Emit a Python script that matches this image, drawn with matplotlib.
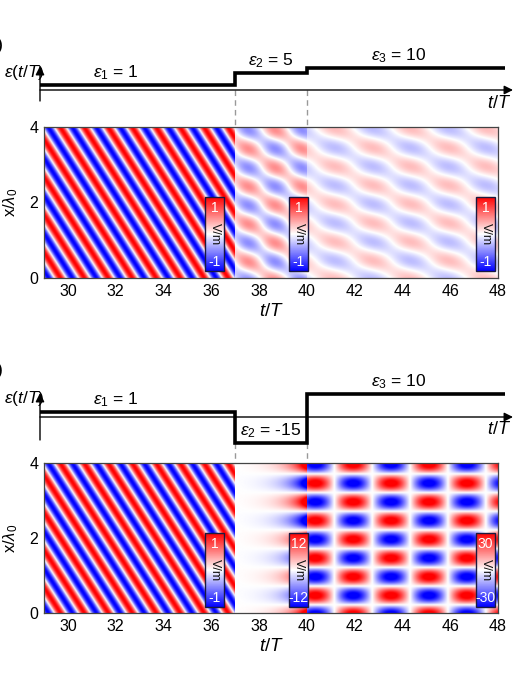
import numpy as np
import matplotlib
matplotlib.use('Agg')
import matplotlib.pyplot as plt
from matplotlib.cm import ScalarMappable
from matplotlib.colors import Normalize

plt.rcParams.update({
    'font.family': ['Liberation Sans', 'DejaVu Sans'],
    'mathtext.fontset': 'custom',
    'mathtext.rm': 'Liberation Sans',
    'mathtext.it': 'Liberation Sans:italic',
    'mathtext.bf': 'Liberation Sans:bold',
})

# ---- data ----
t_range = [29, 48]          # t/T shown in the field maps
x_range = [0, 4]            # x/lambda0
t_switch = [37, 40]         # times where permittivity jumps
eps_top = [1, 5, 10]
eps_bot = [1, -15, 10]
cbar_top = [1, 1, 1]        # colour limits (V/m) of each time slab
cbar_bot = [1, 12, 30]
phase0 = 0.65               # initial phase of incident wave (units of pi)
t_ticks = [30, 32, 34, 36, 38, 40, 42, 44, 46, 48]
x_ticks = [0, 2, 4]

W, H = 521, 680
fig = plt.figure(figsize=(W / 100, H / 100), dpi=100)

# pixel layout of the heat maps
HX0, HX1 = 44, 498
px_per_t = (HX1 - HX0) / (t_range[1] - t_range[0])


def px2t(px):
    return t_range[0] + (px - HX0) / px_per_t


def px_axes(x0, y0, x1, y1):
    return fig.add_axes([x0 / W, 1 - y1 / H, (x1 - x0) / W, (y1 - y0) / H])


def field(eps_list, t, x):
    # 1D wave, k fixed, D and H continuous across each temporal boundary
    k = 2 * np.pi
    edges = [t_range[0]] + t_switch + [t_range[1]]
    s = np.sqrt(complex(eps_list[0]))
    w = k / s
    d0 = np.exp(1j * (w * edges[0] + np.pi * phase0))
    h0 = d0 / s
    e_t = np.zeros(t.shape, complex)
    for i, eps in enumerate(eps_list):
        s = np.sqrt(complex(eps))
        w = k / s
        dp0 = 1j * k * h0
        m = (t >= edges[i]) & (t <= edges[i + 1])
        tau = t[m] - edges[i]
        e_t[m] = (d0 * np.cos(w * tau) + dp0 / w * np.sin(w * tau)) / eps
        T = edges[i + 1] - edges[i]
        d_end = d0 * np.cos(w * T) + dp0 / w * np.sin(w * T)
        dp_end = -d0 * w * np.sin(w * T) + dp0 * np.cos(w * T)
        d0, h0 = d_end, dp_end / (1j * k)
    return np.real(e_t[None, :] * np.exp(1j * k * x[:, None])), edges


LS = 0.25 / 0.9


def g(e):
    # schematic (symlog-like) height of the permittivity steps
    e = np.asarray(e, float)
    a = np.abs(e)
    return np.sign(e) * np.where(a <= 1, a * LS, LS + np.log10(np.maximum(a, 1)))


def draw_panel(eps_list, clims, ax_rows, base_row, scale, below_px, heat_rows, cb_rows, tag, tag_row):
    # ---- permittivity schematic ----
    ex0, ex1 = 30, 515
    ax_e = px_axes(ex0, ax_rows[0], ex1, ax_rows[1])
    ax_e.set_xlim(px2t(ex0), px2t(ex1))
    ax_e.set_ylim(-(ax_rows[1] - base_row) / scale, (base_row - ax_rows[0]) / scale)
    ax_e.axis('off')
    t0 = px2t(40)
    t_end = px2t(505)
    ax_e.annotate('', xy=(px2t(513), 0), xytext=(t0, 0),
                  arrowprops=dict(arrowstyle='-|>', color='k', lw=1.0, mutation_scale=13,
                                  shrinkA=0, shrinkB=0))
    ax_e.annotate('', xy=(t0, 24 / scale), xytext=(t0, -below_px / scale),
                  arrowprops=dict(arrowstyle='-|>', color='k', lw=1.0, mutation_scale=13,
                                  shrinkA=0, shrinkB=0))
    edges = [t0] + t_switch + [t_end]
    lev = g(eps_list)
    ax_e.stairs(lev, edges, baseline=None, color='k', lw=2.6, zorder=3)
    ylo = ax_e.get_ylim()[0]
    for i, ts in enumerate(t_switch):
        top = min(0, lev[i], lev[i + 1])
        ax_e.plot([ts, ts], [top, ylo], color='#999999', lw=1.0, ls=(0, (4, 3)), clip_on=False)
    for i, e in enumerate(eps_list):
        mid = 0.5 * (edges[i] + edges[i + 1])
        if i == 0:
            mid -= 0.9
        elif i == 2:
            mid -= 0.3
        ax_e.annotate(r'$\varepsilon_%d$ = %d' % (i + 1, e), xy=(mid, lev[i]), xytext=(0, 2.5),
                      textcoords='offset points', ha='center', va='bottom', fontsize=12.5)
    ax_e.text(px2t(44), 18 / scale, r'$\varepsilon(t/T)$', ha='right', va='center', fontsize=12.5)
    ax_e.text(px2t(511), -13 / scale, r'$t/T$', ha='right', va='center', fontsize=13)

    # ---- field map ----
    ax = px_axes(HX0, heat_rows[0], HX1, heat_rows[1])
    t = np.linspace(t_range[0], t_range[1], 1400)
    x = np.linspace(x_range[0], x_range[1], 400)
    E, bounds = field(eps_list, t, x)
    for i, c in enumerate(clims):
        m = (t >= bounds[i]) & (t <= bounds[i + 1])
        ax.imshow(E[:, m], extent=[t[m][0], t[m][-1], x_range[0], x_range[1]], origin='lower',
                  aspect='auto', cmap='bwr', vmin=-c, vmax=c, interpolation='bilinear')
    ax.set_xlim(*t_range)
    ax.set_ylim(*x_range)
    ax.set_xticks(t_ticks)
    ax.set_yticks(x_ticks)
    ax.tick_params(length=0, labelsize=11.5, pad=4)
    for sp in ax.spines.values():
        sp.set_color('#444444')
        sp.set_linewidth(0.9)
    ax.set_xlabel(r'$t/T$', fontsize=13.5, labelpad=3)
    ax.set_ylabel(r'x/$\lambda_0$', fontsize=12, labelpad=7)

    # ---- inset colour bars ----
    for left, c in zip([205, 289, 476], clims):
        cax = px_axes(left, cb_rows[0], left + 19, cb_rows[1])
        cb = fig.colorbar(ScalarMappable(Normalize(-c, c), 'bwr'), cax=cax)
        cb.set_ticks([])
        cb.outline.set_edgecolor('#1a1a40')
        cb.outline.set_linewidth(1.0)
        cax.text(0.5, 0.85, '%d' % c, transform=cax.transAxes, ha='center', va='center',
                 color='white', fontsize=10)
        cax.text(0.5, 0.12, '-%d' % c, transform=cax.transAxes, ha='center', va='center',
                 color='white', fontsize=10)
        cax.text(0.5, 0.5, 'V/m', transform=cax.transAxes, ha='center', va='center',
                 rotation=-90, color='#111111', fontsize=9)

    fig.text(4 / W, 1 - tag_row / H, tag, ha='right', va='center', fontsize=14)


draw_panel(eps_top, cbar_top, (36, 127), 90, 17.2, 11, (127, 278), (197, 271), '(a)', 46)
draw_panel(eps_bot, cbar_bot, (366, 463), 417, 18.0, 23, (463, 613), (533, 607), '(b)', 371)

fig.savefig('out.png', dpi=100)
